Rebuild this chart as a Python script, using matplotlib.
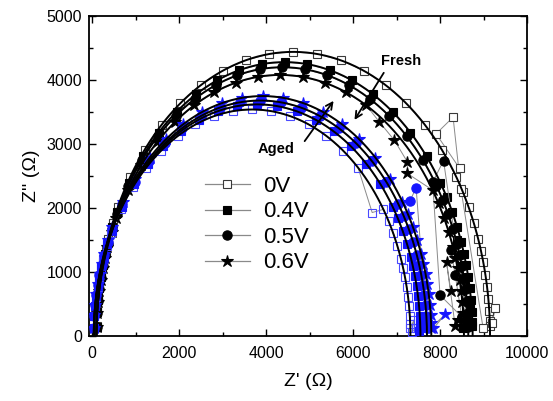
import matplotlib
matplotlib.use("Agg")
import matplotlib.pyplot as plt
from matplotlib.lines import Line2D
from matplotlib.ticker import MultipleLocator
import numpy as np

plt.rcParams['font.family'] = ['Liberation Sans', 'DejaVu Sans']

labels = ["0V", "0.4V", "0.5V", "0.6V"]

# ---------------- Fresh data (Z', Z'') ----------------
fresh_0v_x = [103,118,139,168,207,254,310,371,475,593,874,1209,1598,2028,2503,3005,3530,4073,4625,5177,5720,6245,6747,7222,7652,8041,8376,8524,8657,8775,8879,8940,8996,9043,9082,9111,9132,9144,9146,9270,9200,8990,8480,8300,7910,8450]
fresh_0v_y = [155,386,579,773,961,1150,1335,1518,1770,2016,2482,2913,3299,3636,3921,4147,4307,4409,4440,4409,4307,4147,3921,3636,3299,2913,2482,2253,2016,1770,1518,1335,1150,961,773,579,386,232,155,440,200,125,2300,3420,3160,2620]

fresh_04_x = [103,117,137,165,203,247,300,359,459,571,840,1160,1532,1942,2397,2877,3378,3897,4425,4953,5472,5973,6453,6908,7318,7690,8010,8151,8279,8391,8491,8550,8603,8647,8685,8713,8733,8744,8746,8600,8520,8680,8450,8560,8380]
fresh_04_y = [149,372,559,745,926,1109,1287,1464,1706,1943,2393,2808,3180,3505,3779,3998,4152,4250,4280,4250,4152,3998,3779,3505,3180,2808,2393,2172,1943,1706,1464,1287,1109,926,745,559,372,224,150,300,120,450,1100,800,1500]

fresh_05_x = [103,117,137,164,201,245,298,356,454,566,831,1147,1515,1921,2370,2845,3340,3853,4375,4897,5410,5905,6380,6829,7235,7603,7919,8058,8184,8296,8394,8452,8505,8549,8586,8613,8633,8644,8646,8080,7830,8000,8500,8350,8250]
fresh_05_y = [147,365,548,731,909,1088,1263,1436,1675,1907,2348,2755,3121,3440,3709,3923,4074,4171,4200,4171,4074,3923,3709,3440,3121,2755,2348,2132,1907,1675,1436,1263,1088,909,731,548,365,220,147,2740,2400,640,300,950,1350]

fresh_06_x = [103,117,136,163,200,244,296,353,450,561,822,1135,1498,1900,2343,2812,3303,3810,4325,4840,5347,5838,6307,6600,6950,7250,7250,7828,7965,8089,8200,8297,8354,8406,8450,8487,8514,8533,8544,8546,8420,8350,8150,8250]
fresh_06_y = [142,355,532,710,883,1057,1227,1395,1627,1852,2281,2676,3031,3342,3603,3811,3958,4051,4080,4051,3958,3811,3603,3350,3060,2720,2540,2281,2071,1852,1627,1395,1227,1057,883,710,532,355,213,143,250,150,1150,700]

# ---------------- Aged data (Z', Z'') ----------------
aged_0v_x = [42,55,71,95,126,164,209,258,342,437,662,932,1245,1591,1973,2377,2799,3236,3680,4124,4561,4983,5387,5769,6115,6440,6698,6816,6923,7018,7102,7151,7196,7234,7265,7289,7305,7315,7316,7400,7350,7450]
aged_0v_y = [124,309,462,616,766,917,1064,1211,1411,1607,1979,2322,2630,2899,3126,3306,3434,3515,3540,3515,3434,3306,3126,2899,2630,1930,1979,1797,1607,1411,1211,1064,917,766,616,462,309,185,124,250,60,130]

aged_04_x = [42,55,72,96,129,168,214,265,351,449,682,960,1283,1640,2034,2451,2886,3337,3795,4253,4704,5139,5556,5950,6307,6630,6908,7030,7141,7239,7325,7376,7422,7461,7494,7518,7535,7545,7546,7600,7520]
aged_04_y = [126,315,472,630,783,938,1089,1238,1443,1643,2024,2375,2690,2965,3196,3381,3511,3595,3620,3595,3511,3381,3196,2965,2690,2375,2024,1837,1643,1443,1238,1089,938,783,630,472,315,189,131,220,80]

aged_05_x = [42,55,73,97,131,170,217,270,358,457,695,978,1308,1672,2074,2499,2943,3403,3870,4337,4797,5241,5666,6068,6432,6762,7045,7170,7283,7382,7470,7523,7570,7609,7643,7667,7685,7695,7696,7450,7310]
aged_05_y = [128,320,480,640,796,953,1107,1259,1467,1671,2057,2414,2734,3014,3249,3437,3570,3654,3680,3654,3570,3437,3249,3014,2734,2414,2057,1868,1671,1467,1259,1107,953,796,640,480,320,192,129,2320,2110]

aged_06_x = [42,55,73,98,132,172,220,273,362,463,703,991,1324,1693,2100,2531,2981,3447,3920,4393,4859,5309,5740,6147,6516,6849,7137,7263,7377,7478,7567,7620,7668,7708,7742,7767,7784,7795,7796,8120,7850]
aged_06_y = [131,327,489,653,812,971,1128,1283,1495,1703,2096,2460,2786,3071,3311,3503,3638,3724,3750,3724,3638,3503,3311,3071,2786,2460,2096,1903,1703,1495,1283,1128,971,812,653,489,327,196,131,340,120]

# ---------------- Fit arcs: left intercept, right intercept, peak height ----------------
fit_left = [100, 100, 100, 100, 40, 40, 40, 40]
fit_right = [9150, 8750, 8650, 8550, 7320, 7550, 7700, 7800]
fit_peak = [4440, 4280, 4200, 4080, 3540, 3620, 3680, 3750]

fig = plt.figure(figsize=(5.53, 4.01), dpi=100)
ax = fig.add_axes([0.161, 0.162, 0.792, 0.798])

BLUE = '#1515ff'
GRAY = '#8a8a8a'
ms = 6.2

fresh = [(fresh_0v_x, fresh_0v_y), (fresh_04_x, fresh_04_y), (fresh_05_x, fresh_05_y), (fresh_06_x, fresh_06_y)]
aged = [(aged_0v_x, aged_0v_y), (aged_04_x, aged_04_y), (aged_05_x, aged_05_y), (aged_06_x, aged_06_y)]
markers = ['s', 's', 'o', '*']
sizes = [ms, ms, ms + 0.5, ms + 2.8]

for i, (x, y) in enumerate(fresh):
    fc = 'white' if i == 0 else 'black'
    ec = '#3a3a3a' if i == 0 else 'black'
    ax.plot(x, y, color=GRAY, lw=0.7, marker=markers[i], ms=sizes[i],
            mfc=fc, mec=ec, mew=0.8, zorder=2)

for i, (x, y) in enumerate(aged):
    fc = 'none' if i == 0 else BLUE
    ec = '#4a4aff' if i == 0 else BLUE
    ax.plot(x, y, color=GRAY, lw=0.7, marker=markers[i], ms=sizes[i],
            mfc=fc, mec=ec, mew=0.8, zorder=3)

t = np.linspace(0, np.pi, 300)
for L, R, h in zip(fit_left, fit_right, fit_peak):
    c = (L + R) / 2
    r = (R - L) / 2
    ax.plot(c - r * np.cos(t), h * np.sin(t), color='black', lw=1.4, zorder=4)

ax.set_xlim(-70, 10000)
ax.set_ylim(0, 5000)
ax.xaxis.set_major_locator(MultipleLocator(2000))
ax.xaxis.set_minor_locator(MultipleLocator(1000))
ax.yaxis.set_major_locator(MultipleLocator(1000))
ax.yaxis.set_minor_locator(MultipleLocator(500))
ax.tick_params(which='both', direction='in', top=True, right=True, labelsize=11.5, width=1.0)
ax.tick_params(which='major', length=5)
ax.tick_params(which='minor', length=3)
ax.tick_params(axis='x', pad=7)
ax.tick_params(axis='y', pad=5)
for s in ax.spines.values():
    s.set_linewidth(1.3)

ax.set_xlabel("Z' (\u03a9)", fontsize=14, labelpad=9)
ax.set_ylabel("Z'' (\u03a9)", fontsize=14, labelpad=5)

ax.annotate('', xy=(6000, 3340), xytext=(6740, 4150),
            arrowprops=dict(arrowstyle='->', color='black', lw=1.3, mutation_scale=12), zorder=6)
ax.annotate('', xy=(5590, 3710), xytext=(4850, 3010),
            arrowprops=dict(arrowstyle='->', color='black', lw=1.3, mutation_scale=12), zorder=6)
ax.text(6650, 4290, 'Fresh', fontsize=10.5, fontweight='bold', va='center', ha='left', zorder=6)
ax.text(3800, 2930, 'Aged', fontsize=10.5, fontweight='bold', va='center', ha='left', zorder=6)

handles = []
for i in range(4):
    fc = 'white' if i == 0 else 'black'
    ec = '#3a3a3a' if i == 0 else 'black'
    handles.append(Line2D([], [], color=GRAY, lw=0.9, marker=markers[i], ms=sizes[i],
                          mfc=fc, mec=ec, mew=0.8))
leg = ax.legend(handles, labels, loc='upper left', bbox_to_anchor=(0.265, 0.50),
                frameon=False, fontsize=16, handlelength=2.0, handletextpad=0.6,
                labelspacing=0.2, borderpad=0, borderaxespad=0)

fig.savefig('out.png', dpi=100)
